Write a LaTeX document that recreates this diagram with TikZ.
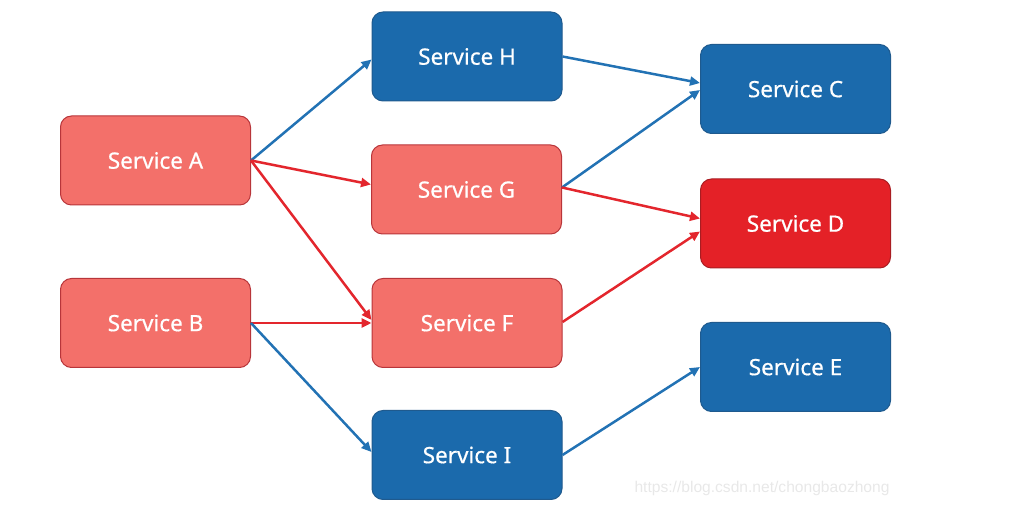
\documentclass[tikz,border=0pt]{standalone}
\usepackage{fontspec}
\setmainfont{Noto Sans}
\newfontfamily\svcfont{Noto Sans}[FakeBold=0.6]
\newfontfamily\wmfont{Liberation Sans}
\usetikzlibrary{arrows.meta,calc}
\definecolor{bluefill}{HTML}{1B6AAC}
\definecolor{blueline}{HTML}{1F5A8E}
\definecolor{pinkfill}{HTML}{F3706A}
\definecolor{pinkline}{HTML}{B8353A}
\definecolor{redfill}{HTML}{E42127}
\definecolor{redline}{HTML}{A91D22}
\definecolor{bluearrow}{HTML}{2272B4}
\definecolor{redarrow}{HTML}{E3262D}
\tikzset{
  svc/.style={rectangle, rounded corners=11pt, minimum width=190pt, minimum height=89pt,
    line width=1pt, text=white, font=\svcfont\fontsize{22.5}{26}\selectfont, inner sep=0pt},
  bluebox/.style={svc, fill=bluefill, draw=blueline},
  pinkbox/.style={svc, fill=pinkfill, draw=pinkline},
  redbox/.style={svc, fill=redfill, draw=redline},
  conn/.style={line width=2.5pt, -{Triangle[length=10pt,width=9pt]}},
  barrow/.style={conn, draw=bluearrow, fill=bluearrow},
  rarrow/.style={conn, draw=redarrow, fill=redarrow},
}
\begin{document}
\begin{tikzpicture}[x=1pt,y=-1pt]
\useasboundingbox (0,0) rectangle (1010,510);
\node[pinkbox] (A) at (155.5,160.5) {Service A};
\node[pinkbox] (B) at (155.5,323) {Service B};
\node[bluebox] (H) at (467,56.5) {Service H};
\node[pinkbox] (G) at (466.5,189.5) {Service G};
\node[pinkbox] (F) at (467,323) {Service F};
\node[bluebox] (I) at (467,455) {Service I};
\node[bluebox] (C) at (795.5,89) {Service C};
\node[redbox] (D) at (795.5,223.5) {Service D};
\node[bluebox] (E) at (795.5,367) {Service E};
\node[text=black!9, font=\wmfont\fontsize{15.6}{18}\selectfont, anchor=west] (wm) at (631,488) {https://blog.csdn.net/chongbaozhong};
\draw[barrow] (A.east) -- ($(H.west)+(0,3)$);
\draw[rarrow] (A.east) -- ($(G.west)+(0,-5)$);
\draw[rarrow] (A.east) -- ($(F.west)+(0,-3)$);
\draw[rarrow] (B.east) -- (F.west);
\draw[barrow] (B.east) -- ($(I.west)+(0,-3)$);
\draw[barrow] (H.east) -- ($(C.west)+(0,-6)$);
\draw[barrow] ($(G.east)+(0,-2)$) -- ($(C.west)+(0,1)$);
\draw[rarrow] ($(G.east)+(0,-2)$) -- ($(D.west)+(0,-5)$);
\draw[rarrow] ($(F.east)+(0,-1)$) -- ($(D.west)+(0,8)$);
\draw[barrow] (I.east) -- (E.west);
\end{tikzpicture}
\end{document}
